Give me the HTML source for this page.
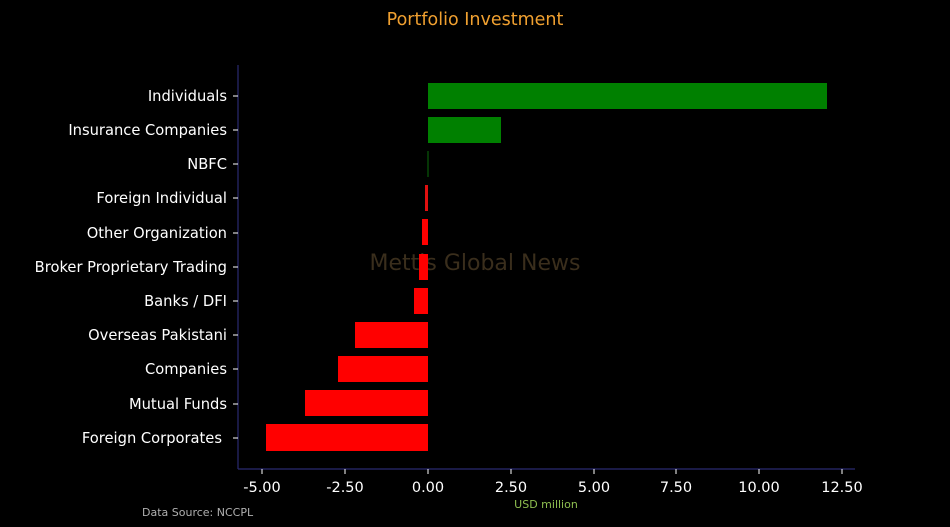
<!DOCTYPE html>
<html><head><meta charset="utf-8"><style>
html,body{margin:0;padding:0;background:#000;}
svg{display:block;font-family:"DejaVu Sans","Liberation Sans",sans-serif;}
</style></head><body>
<svg width="950" height="527" viewBox="0 0 950 527" xmlns="http://www.w3.org/2000/svg">
<rect width="950" height="527" fill="#000"/>
<text x="475" y="25" text-anchor="middle" fill="#f0a030" font-size="17.5">Portfolio Investment</text>
<text x="475" y="270" text-anchor="middle" fill="#3a2e1c" font-size="22">Mettis Global News</text>
<g>
<rect x="428" y="83" width="399" height="26" fill="#008000"/>
<rect x="428" y="117" width="73" height="26" fill="#008000"/>
<rect x="427.5" y="151" width="1" height="26" fill="#0a6a0a"/>
<rect x="425" y="185" width="3" height="26" fill="#e01010"/>
<rect x="422" y="219" width="6" height="26" fill="#ff0000"/>
<rect x="419" y="254" width="9" height="26" fill="#ff0000"/>
<rect x="414" y="288" width="14" height="26" fill="#ff0000"/>
<rect x="355" y="322" width="73" height="26" fill="#ff0000"/>
<rect x="338" y="356" width="90" height="26" fill="#ff0000"/>
<rect x="305" y="390" width="123" height="26" fill="#ff0000"/>
<rect x="266" y="424" width="162" height="27" fill="#ff0000"/>
</g>
<line x1="238" y1="65" x2="238" y2="469" stroke="#2a2a70" stroke-width="1.2"/>
<line x1="238" y1="469" x2="855" y2="469" stroke="#2a2a70" stroke-width="1.2"/>
<g stroke="#fff" stroke-width="1">
<line x1="233" y1="96" x2="238" y2="96"/><line x1="233" y1="130" x2="238" y2="130"/>
<line x1="233" y1="164" x2="238" y2="164"/><line x1="233" y1="198" x2="238" y2="198"/>
<line x1="233" y1="233" x2="238" y2="233"/><line x1="233" y1="267" x2="238" y2="267"/>
<line x1="233" y1="301" x2="238" y2="301"/><line x1="233" y1="335" x2="238" y2="335"/>
<line x1="233" y1="369" x2="238" y2="369"/><line x1="233" y1="404" x2="238" y2="404"/>
<line x1="233" y1="438" x2="238" y2="438"/>
<line x1="262" y1="469" x2="262" y2="474"/><line x1="345" y1="469" x2="345" y2="474"/>
<line x1="428" y1="469" x2="428" y2="474"/><line x1="511" y1="469" x2="511" y2="474"/>
<line x1="594" y1="469" x2="594" y2="474"/><line x1="676" y1="469" x2="676" y2="474"/>
<line x1="759" y1="469" x2="759" y2="474"/><line x1="842" y1="469" x2="842" y2="474"/>
</g>
<g fill="#fff" font-size="14.7" text-anchor="end">
<text x="227" y="101">Individuals</text>
<text x="227" y="135">Insurance Companies</text>
<text x="227" y="169">NBFC</text>
<text x="227" y="203">Foreign Individual</text>
<text x="227" y="238">Other Organization</text>
<text x="227" y="272">Broker Proprietary Trading</text>
<text x="227" y="306">Banks / DFI</text>
<text x="227" y="340">Overseas Pakistani</text>
<text x="227" y="374">Companies</text>
<text x="227" y="409">Mutual Funds</text>
<text x="222" y="443">Foreign Corporates</text>
</g>
<g fill="#fff" font-size="14.5" text-anchor="middle">
<text x="262" y="492">-5.00</text><text x="345" y="492">-2.50</text>
<text x="428" y="492">0.00</text><text x="511" y="492">2.50</text>
<text x="594" y="492">5.00</text><text x="676" y="492">7.50</text>
<text x="759" y="492">10.00</text><text x="842" y="492">12.50</text>
</g>
<text x="546" y="508" text-anchor="middle" fill="#8fbf50" font-size="11">USD million</text>
<text x="142" y="516" fill="#b0b0b0" font-size="11">Data Source: NCCPL</text>
</svg>
</body></html>
